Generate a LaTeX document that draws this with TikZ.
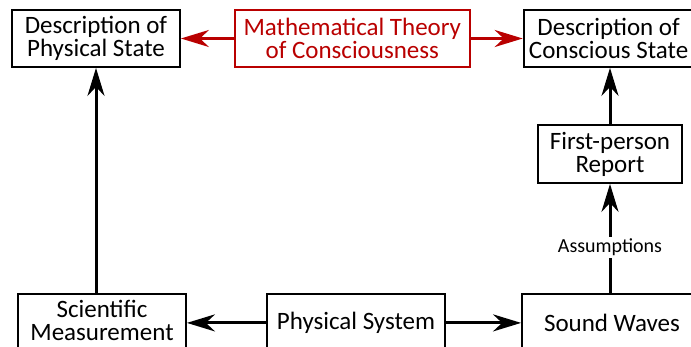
\documentclass[tikz,border=0pt]{standalone}
\usepackage{fontspec}
\setmainfont{Carlito}
\usetikzlibrary{positioning,arrows.meta}
\definecolor{theoryred}{RGB}{185,0,0}

\begin{document}
\begin{tikzpicture}[x=1pt, y=-1pt,
        box/.style={rectangle, draw=black, line width=1.8pt, minimum height=57pt, inner sep=0pt, align=center, font=\fontsize{25}{23}\selectfont},
        theory/.style={box, draw=theoryred, text=theoryred},
        arrow/.style={-{Stealth[length=28pt, width=17pt, inset=9pt]}, line width=3pt},
        redarrow/.style={arrow, draw=theoryred, fill=theoryred},
        note/.style={font=\fontsize{20}{22}\selectfont, fill=white, inner sep=2pt},
      ]
      \useasboundingbox (0,0) rectangle (691,347);
      \clip (0,0) rectangle (691,347);
      % top row
      \node [box, minimum width=168pt] (physstate) at (96,38.5) {Description of\\Physical State};
      \node [theory, minimum width=235pt, right=53pt of physstate] (theory) {Mathematical Theory\\of Consciousness};
      \node [box, minimum width=170pt, right=52pt of theory] (consstate) {Description of\\Conscious State};
      \node [box, minimum width=144pt, minimum height=58pt] (report) at (610,154) {First-person\\Report};
      % bottom row
      \node [box, minimum width=168pt, minimum height=58pt, text depth=6pt, anchor=north] (measure) at (102,293) {Scientific\\Measurement};
      \node [box, minimum width=178pt, minimum height=58pt, anchor=north] (system) at (356,293) {Physical System};
      \node [box, minimum width=180pt, minimum height=58pt, anchor=north] (sound) at (612,293) {Sound Waves};
      \draw [redarrow] (theory) -- (physstate);
      \draw [redarrow] (theory) -- (consstate);
      \draw [arrow] (physstate.south |- measure.north) -- (physstate);
      \draw [arrow] (system) -- (measure);
      \draw [arrow] (system) -- (sound);
      \draw [arrow] (report) -- (report |- consstate.south);
      \draw [arrow] (report |- sound.north) -- node [note, pos=0.42] {Assumptions} (report);
    \end{tikzpicture}
\end{document}
